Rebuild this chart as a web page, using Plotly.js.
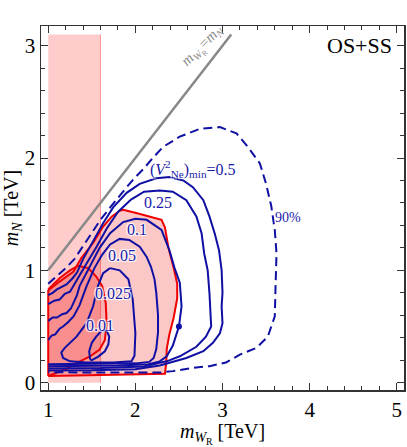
<!DOCTYPE html>
<html><head><meta charset="utf-8">
<script src="https://cdn.plot.ly/plotly-3.0.1.min.js"></script>
<style>html,body{margin:0;padding:0;background:#fff}</style>
</head><body><div id="chart" style="width:407px;height:447px"></div>
<script>
// ---- data ----
const band_x = [1.0, 1.6, 1.6, 1.0];
const band_y = [0.0, 0.0, 3.1, 3.1];
const diag_x = [1.0, 3.1];
const diag_y = [1.0, 3.1];

const regionA_x = [1.0, 1.0, 1.13, 1.29, 1.38, 1.52, 1.63, 1.73, 1.82, 1.86, 2.01, 2.16, 2.30, 2.34, 2.38, 2.44, 2.48, 2.48, 2.44, 2.39, 2.36, 2.355, 2.34, 1.0];
const regionA_y = [0.06, 0.82, 0.90, 0.99, 1.11, 1.25, 1.39, 1.48, 1.53, 1.54, 1.51, 1.48, 1.45, 1.38, 1.20, 1.02, 0.88, 0.75, 0.58, 0.43, 0.30, 0.18, 0.08, 0.06];

const regionB_x = [1.0, 1.13, 1.25, 1.34, 1.46, 1.55, 1.62, 1.66, 1.67, 1.65, 1.59, 1.48, 1.34, 1.2, 1.0];
const regionB_y = [0.83, 0.93, 1.00, 1.04, 1.02, 0.945, 0.86, 0.71, 0.53, 0.38, 0.295, 0.235, 0.18, 0.12, 0.06];

const c001_x = [1.48, 1.47, 1.50, 1.55, 1.61, 1.67, 1.70, 1.69, 1.65, 1.57, 1.50, 1.48];
const c001_y = [0.207, 0.28, 0.355, 0.41, 0.46, 0.466, 0.41, 0.34, 0.28, 0.23, 0.20, 0.207];

const c0025_x = [1.71, 1.82, 1.92, 1.97, 2.00, 1.99, 1.955, 1.75, 1.44, 1.25, 1.17, 1.15, 1.19, 1.325, 1.44, 1.515, 1.57, 1.63, 1.71];
const c0025_y = [1.02, 1.00, 0.92, 0.74, 0.44, 0.24, 0.19, 0.18, 0.18, 0.19, 0.22, 0.27, 0.31, 0.41, 0.53, 0.68, 0.86, 0.975, 1.02];

const c005_x = [1.0, 1.04, 1.08, 1.13, 1.17, 1.23, 1.29, 1.36, 1.44, 1.53, 1.62, 1.71, 1.82, 1.93, 2.05, 2.13, 2.18, 2.22, 2.24, 2.26, 2.26, 2.24, 2.21, 2.16, 2.0, 1.5, 1.0];
const c005_y = [0.38, 0.42, 0.43, 0.48, 0.50, 0.54, 0.59, 0.69, 0.86, 1.02, 1.14, 1.23, 1.28, 1.27, 1.21, 1.12, 1.03, 0.92, 0.80, 0.60, 0.45, 0.30, 0.22, 0.185, 0.172, 0.168, 0.165];

const c01_x = [1.0, 1.05, 1.10, 1.16, 1.21, 1.26, 1.29, 1.33, 1.36, 1.42, 1.48, 1.59, 1.71, 1.86, 2.0, 2.13, 2.30, 2.39, 2.45, 2.51, 2.53, 2.50, 2.43, 2.36, 2.28, 2.15, 1.8, 1.0];
const c01_y = [0.55, 0.58, 0.58, 0.61, 0.62, 0.66, 0.71, 0.78, 0.86, 0.95, 1.03, 1.20, 1.33, 1.43, 1.46, 1.45, 1.36, 1.18, 1.02, 0.89, 0.68, 0.50, 0.33, 0.235, 0.19, 0.165, 0.152, 0.147];

const c025_x = [1.0, 1.07, 1.13, 1.19, 1.25, 1.33, 1.44, 1.555, 1.67, 1.80, 1.95, 2.1, 2.28, 2.43, 2.585, 2.70, 2.76, 2.79, 2.83, 2.85, 2.87, 2.81, 2.70, 2.51, 2.36, 2.28, 2.1, 1.6, 1.0];
const c025_y = [0.70, 0.73, 0.74, 0.79, 0.81, 0.92, 1.06, 1.21, 1.37, 1.52, 1.63, 1.70, 1.71, 1.70, 1.625, 1.48, 1.33, 1.15, 1.00, 0.80, 0.50, 0.41, 0.32, 0.235, 0.19, 0.177, 0.145, 0.13, 0.127];

const c05_x = [1.0, 1.05, 1.1, 1.21, 1.28, 1.33, 1.40, 1.515, 1.63, 1.745, 1.90, 2.05, 2.24, 2.39, 2.55, 2.66, 2.78, 2.85, 2.91, 2.96, 2.99, 3.00, 2.99, 3.00, 2.97, 2.89, 2.78, 2.585, 2.39, 2.28, 2.0, 1.5, 1.0];
const c05_y = [0.78, 0.80, 0.83, 0.875, 0.93, 0.98, 1.10, 1.26, 1.42, 1.56, 1.69, 1.77, 1.82, 1.83, 1.80, 1.74, 1.625, 1.48, 1.33, 1.18, 1.00, 0.80, 0.68, 0.53, 0.44, 0.355, 0.28, 0.22, 0.177, 0.153, 0.12, 0.11, 0.109];

const c90_x = [1.0, 1.1, 1.2, 1.3, 1.4, 1.5, 1.6, 1.7, 1.8, 1.9, 2.0, 2.09, 2.2, 2.32, 2.51, 2.74, 2.97, 3.16, 3.29, 3.43, 3.50, 3.56, 3.60, 3.62, 3.61, 3.60, 3.52, 3.39, 3.20, 3.04, 2.85, 2.66, 2.43, 2.28, 1.5, 1.0];
const c90_y = [0.88, 0.95, 1.02, 1.10, 1.22, 1.34, 1.45, 1.55, 1.65, 1.74, 1.83, 1.90, 2.00, 2.10, 2.19, 2.26, 2.275, 2.22, 2.10, 1.95, 1.77, 1.57, 1.36, 1.15, 0.89, 0.59, 0.41, 0.31, 0.25, 0.18, 0.147, 0.133, 0.103, 0.09, 0.09, 0.094];

const point_x = [2.5];
const point_y = [0.5];

const label_text = ["0.01", "0.025", "0.05", "0.1", "0.25", "(<i>V</i><sup>2</sup><sub>Ne</sub>)<sub>min</sub>=0.5", "90%"];
const label_x = [1.59, 1.74, 1.85, 2.02, 2.26, 2.66, 3.75];
const label_y = [0.51, 0.79, 1.13, 1.36, 1.60, 1.905, 1.47];
const label_size = [16, 16, 16, 16, 16, 16, 14];

const x_ticks = [1, 2, 3, 4, 5];
const y_ticks = [0, 1, 2, 3];

// ---- styling ----
const BLUE = '#0f0fa3';
const FONT = 'Liberation Serif, Times New Roman, serif';

function line(x, y, opts) {
  return Object.assign({type: 'scatter', mode: 'lines', x: x, y: y, hoverinfo: 'skip', showlegend: false}, opts);
}

const traces = [
  line(band_x, band_y, {fill: 'toself', fillcolor: 'rgba(255,0,0,0.2)', line: {width: 0}}),
  line([band_x[1], band_x[2]], [band_y[1], band_y[2]], {line: {color: 'rgba(255,80,80,0.55)', width: 1}}),
  line(regionA_x, regionA_y, {fill: 'toself', fillcolor: 'rgba(240,20,20,0.24)', line: {color: '#ee0000', width: 2}}),
  line(regionB_x, regionB_y, {fill: 'toself', fillcolor: 'rgba(230,20,20,0.12)', line: {color: '#ee0000', width: 2}}),
  line(diag_x, diag_y, {line: {color: '#888888', width: 2.5}}),
  line(c90_x, c90_y, {line: {color: BLUE, width: 2, dash: '9px,5px'}}),
  line(c05_x, c05_y, {line: {color: BLUE, width: 2}}),
  line(c025_x, c025_y, {line: {color: BLUE, width: 2}}),
  line(c01_x, c01_y, {line: {color: BLUE, width: 2}}),
  line(c005_x, c005_y, {line: {color: BLUE, width: 2}}),
  line(c0025_x, c0025_y, {line: {color: BLUE, width: 2}}),
  line(c001_x, c001_y, {line: {color: BLUE, width: 2}}),
  {type: 'scatter', mode: 'markers', x: point_x, y: point_y, marker: {color: BLUE, size: 6}, hoverinfo: 'skip', showlegend: false}
];

const annotations = label_text.map((t, i) => ({
  x: label_x[i], y: label_y[i], xref: 'x', yref: 'y', text: t, showarrow: false,
  font: {family: FONT, size: label_size[i], color: '#1a1aa8', shadow: '1px 1px 1px #fff, -1px -1px 1px #fff, 1px -1px 1px #fff, -1px 1px 1px #fff'}
}));
annotations.push({x: 4.97, y: 3.0, xref: 'x', yref: 'y', xanchor: 'right', yanchor: 'middle', text: 'OS+SS', showarrow: false,
  font: {family: FONT, size: 22, color: '#000'}});
annotations.push({x: 2.78, y: 3.0, xref: 'x', yref: 'y', text: '<i>m</i><sub><i>W</i><sub>R</sub></sub>=<i>m</i><sub><i>N</i></sub>', showarrow: false, textangle: -45,
  font: {family: FONT, size: 15, color: '#8a8a8a'}});

const axisCommon = {
  showgrid: false, zeroline: false, showline: true, linecolor: '#333', linewidth: 1.5, mirror: 'allticks',
  ticks: 'inside', ticklen: 7, tickwidth: 1, tickcolor: '#333',
  tickfont: {family: FONT, size: 21, color: '#000'},
  minor: {ticks: 'inside', ticklen: 4, tickwidth: 1, tickcolor: '#333', dtick: 0.2, showgrid: false}
};

const layout = {
  width: 407, height: 447,
  margin: {l: 41, r: 3, t: 26, b: 57},
  paper_bgcolor: '#fff', plot_bgcolor: '#fff',
  showlegend: false,
  xaxis: Object.assign({}, axisCommon, {
    range: [0.917, 5.083], tickmode: 'array', tickvals: x_ticks, ticktext: x_ticks.map(String),
    minor: Object.assign({}, axisCommon.minor, {tick0: 0}),
    title: {text: '<i>m</i><sub><i>W</i><sub>R</sub></sub> [TeV]', font: {family: FONT, size: 20, color: '#000'}, standoff: 12}
  }),
  yaxis: Object.assign({}, axisCommon, {
    range: [-0.065, 3.175], tickmode: 'array', tickvals: y_ticks, ticktext: y_ticks.map(String),
    minor: Object.assign({}, axisCommon.minor, {tick0: 0}),
    title: {text: '<i>m<sub>N</sub></i> [TeV]', font: {family: FONT, size: 20, color: '#000'}, standoff: 2}
  }),
  annotations: annotations
};

Plotly.newPlot('chart', traces, layout, {displayModeBar: false, staticPlot: true});
</script></body></html>
